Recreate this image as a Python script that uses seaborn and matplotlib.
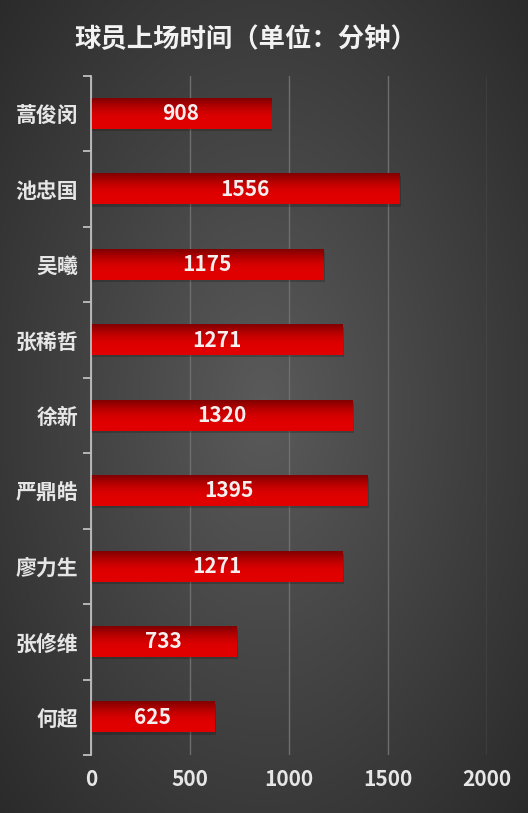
import numpy as np
import pandas as pd
import seaborn as sns
import matplotlib.pyplot as plt
from matplotlib.ticker import FixedLocator

players = ['蒿俊闵', '池忠国', '吴曦', '张稀哲', '徐新', '严鼎皓', '廖力生', '张修维', '何超']
minutes = [908, 1556, 1175, 1271, 1320, 1395, 1271, 733, 625]
xticks = [0, 500, 1000, 1500, 2000]

df = pd.DataFrame({'player': players, 'minutes': minutes})

sns.set_theme(style='dark')
plt.rcParams['font.family'] = ['Noto Sans CJK SC', 'DejaVu Sans']
plt.rcParams['axes.unicode_minus'] = False

fig = plt.figure(figsize=(5.28, 8.13), dpi=100)

# radial gradient background
bg = fig.add_axes([0, 0, 1, 1], zorder=-10)
yy, xx = np.mgrid[-1:1:400j, -1:1:300j]
r = np.sqrt((xx * 0.95) ** 2 + (yy * 0.9) ** 2)
bg.imshow(np.clip(r, 0, 1.4), cmap=sns.dark_palette('#5a5a5a', reverse=True, as_cmap=True),
          aspect='auto', extent=[0, 1, 0, 1], vmin=0, vmax=1.45)
bg.axis('off')

ax = fig.add_axes([0.172, 0.0713, 0.751, 0.8352])
ax.set_facecolor('none')

sns.barplot(data=df, x='minutes', y='player', orient='h', width=0.40,
            color='#c00000', linewidth=0, edgecolor='none', ax=ax, zorder=3)

# vertical red gradient on every bar (dark top -> bright bottom) + soft shadow
grad = np.linspace(0, 1, 64).reshape(-1, 1)
red_cmap = sns.blend_palette(['#800000', '#a80000', '#c80000', '#dc0000', '#e20000', '#e00000'],
                             as_cmap=True)
for p in ax.patches[:]:
    x0, y0 = p.get_x(), p.get_y()
    w, h = p.get_width(), p.get_height()
    ax.add_patch(plt.Rectangle((x0 + 8, y0 + 0.03), w, h, color='black',
                               alpha=0.18, zorder=2, lw=0))
    # y axis is inverted: y0 (row 0, dark) is the visual top edge
    ax.imshow(grad, cmap=red_cmap, aspect='auto', extent=[x0, x0 + w, y0, y0 + h],
              zorder=4, origin='lower', interpolation='bilinear')
    ax.text(x0 + w / 2, y0 + h / 2, str(int(w)), color='#f5eeee', fontsize=15,
            fontweight='bold', ha='center', va='center', zorder=5)

ax.set_xlim(0, 2000)
ax.set_ylim(len(players) - 0.5, -0.5)
ax.set_xticks(xticks)
ax.set_xticklabels([str(t) for t in xticks])
ax.yaxis.set_minor_locator(FixedLocator(np.arange(-0.5, len(players), 1)))
ax.tick_params(axis='y', which='major', length=0, pad=9, labelsize=15, labelcolor='#e6e6e6')
ax.tick_params(axis='y', which='minor', length=6, width=1.3, color='#bfbfbf', left=True)
ax.tick_params(axis='x', length=0, pad=10, labelsize=15, labelcolor='#e6e6e6')
for lab in ax.get_yticklabels() + ax.get_xticklabels():
    lab.set_fontweight('bold')

ax.grid(axis='x', color='#6e6e6e', lw=1, zorder=0)
ax.grid(axis='y', visible=False)
for s in ['top', 'right', 'bottom']:
    ax.spines[s].set_visible(False)
ax.spines['left'].set_color('#bfbfbf')
ax.spines['left'].set_linewidth(1.3)
ax.spines['left'].set_zorder(6)
ax.set_xlabel('')
ax.set_ylabel('')

fig.text(0.465, 0.951, '球员上场时间（单位：分钟）', color='#f2f2f2', fontsize=19,
         fontweight='bold', ha='center', va='center')

fig.savefig('out.png', dpi=100)
